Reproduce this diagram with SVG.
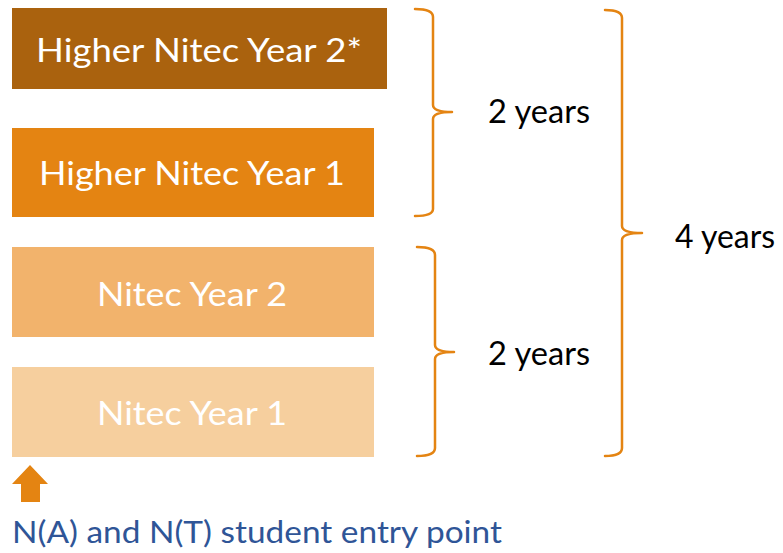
<svg xmlns="http://www.w3.org/2000/svg" width="783" height="553" viewBox="0 0 783 553">
<style>
.box text{font-family:Lato,"Open Sans","Liberation Sans",sans-serif;font-size:32px;fill:#ffffff;text-anchor:start}
.lbl{font-family:Lato,"Open Sans","Liberation Sans",sans-serif;font-size:32px;fill:#000000}
.brace{fill:none;stroke:#E48412;stroke-width:2.5;stroke-linejoin:round;stroke-linecap:round}
.entry{font-family:Lato,"Open Sans","Liberation Sans",sans-serif;font-size:31px;fill:#2F5597}
</style>
<rect width="783" height="553" fill="#ffffff"/>
<g id="hn2" class="box">
<rect x="12" y="8" width="375" height="81" fill="#AA620E"/>
<text x="36" y="62" textLength="326" lengthAdjust="spacingAndGlyphs">Higher Nitec Year 2*</text>
</g>
<g id="hn1" class="box">
<rect x="12" y="128" width="362" height="89" fill="#E48412"/>
<text x="39" y="185" textLength="306" lengthAdjust="spacingAndGlyphs">Higher Nitec Year 1</text>
</g>
<g id="n2" class="box">
<rect x="12" y="247" width="362" height="90" fill="#F2B36C"/>
<text x="97" y="306" textLength="190" lengthAdjust="spacingAndGlyphs">Nitec Year 2</text>
</g>
<g id="n1" class="box">
<rect x="12" y="367" width="362" height="90" fill="#F6CF9E"/>
<text x="97" y="425" textLength="190" lengthAdjust="spacingAndGlyphs">Nitec Year 1</text>
</g>
<g id="connectors">
<path class="brace" d="M415,9 Q433,9 433,17 V105 Q433,112 452,112 Q433,112 433,119 V209 Q433,216 415,216"/>
<path class="brace" d="M417,247 Q435,247 435,255 V345 Q435,352 454,352 Q435,352 435,359 V448 Q435,456 417,456"/>
<path class="brace" d="M605,10 Q622,10 622,18 V226 Q622,233 642,233 Q622,233 622,240 V448 Q622,456 605,456"/>
</g>
<g id="lbl-top">
<text class="lbl" x="488" y="123" textLength="102" lengthAdjust="spacingAndGlyphs">2 years</text>
</g>
<g id="lbl-bottom">
<text class="lbl" x="488" y="365" textLength="102" lengthAdjust="spacingAndGlyphs">2 years</text>
</g>
<g id="lbl-total">
<text class="lbl" x="675" y="248" textLength="100" lengthAdjust="spacingAndGlyphs">4 years</text>
</g>
<g id="entry">
<polygon points="30,465 48,484 40,484 40,502 21,502 21,484 12,484" fill="#E48412"/>
<text class="entry" x="12" y="543" textLength="490" lengthAdjust="spacingAndGlyphs">N(A) and N(T) student entry point</text>
</g>
</svg>
